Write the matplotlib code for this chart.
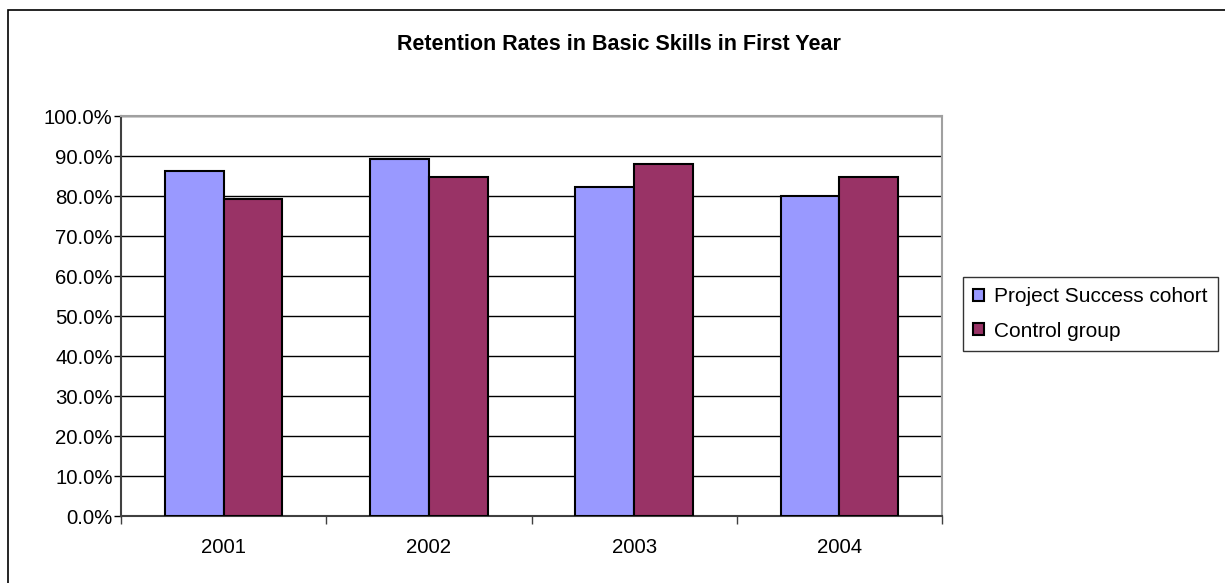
import numpy as np
import matplotlib.pyplot as plt
from matplotlib.patches import Rectangle
from matplotlib.ticker import PercentFormatter, FixedLocator

plt.rcParams['font.family'] = ['Liberation Sans', 'DejaVu Sans']

# Data
years = ['2001', '2002', '2003', '2004']
project_success = [0.863, 0.893, 0.823, 0.799]
control_group = [0.793, 0.848, 0.879, 0.848]

fig = plt.figure(figsize=(12.25, 5.83), dpi=100)
ax = fig.add_axes([121 / 1225, 67 / 583, 821 / 1225, 400 / 583])

x = np.arange(len(years))
width = 0.2857
ax.bar(x - width / 2, project_success, width, color='#9999FF', edgecolor='black',
       linewidth=1.5, label='Project Success cohort', zorder=3)
ax.bar(x + width / 2, control_group, width, color='#993366', edgecolor='black',
       linewidth=1.5, label='Control group', zorder=3)

ax.set_xlim(-0.5, 3.5)
ax.set_ylim(0, 1.0)
ax.set_yticks(np.arange(0, 1.01, 0.1))
ax.yaxis.set_major_formatter(PercentFormatter(1.0, decimals=1))
ax.yaxis.grid(True, color='black', linewidth=1, zorder=0)

ax.set_xticks(x)
ax.set_xticklabels(years)
ax.xaxis.set_minor_locator(FixedLocator(np.arange(-0.5, 3.6, 1)))
ax.tick_params(axis='x', which='major', length=0, pad=16, labelsize=14.7)
ax.tick_params(axis='x', which='minor', length=6, width=1, color='#404040')
ax.tick_params(axis='y', length=5, width=1, labelsize=14.7, pad=1)

for side in ['top', 'right']:
    ax.spines[side].set_color('#A0A0A0')
    ax.spines[side].set_linewidth(1.5)
for side in ['left', 'bottom']:
    ax.spines[side].set_color('#404040')
    ax.spines[side].set_linewidth(1.5)

fig.text(619 / 1225, 1 - 44 / 583, 'Retention Rates in Basic Skills in First Year',
         ha='center', va='center', fontsize=15.5, fontweight='bold')

leg = fig.legend(loc='center left', bbox_to_anchor=(963 / 1225, 1 - 314 / 583),
                 fontsize=15, frameon=True, fancybox=False, edgecolor='black',
                 handlelength=0.5, handleheight=0.5, handletextpad=0.5,
                 labelspacing=0.75, borderpad=0.5, borderaxespad=0)
leg.get_frame().set_linewidth(1)

# outer chart border (cut off at right and bottom)
fig.patches.append(Rectangle((8 / 1225, -0.05), 1.1, 1 - 10 / 583 + 0.05,
                             transform=fig.transFigure, fill=False,
                             edgecolor='black', linewidth=1.2))

fig.savefig('out.png', dpi=100)
